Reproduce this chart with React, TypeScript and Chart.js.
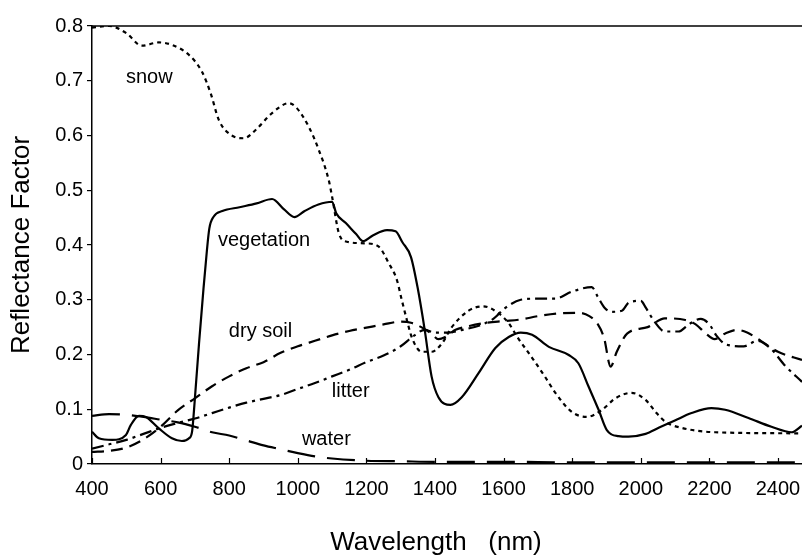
import React, { useEffect, useRef } from "react";
import { Chart, registerables } from "chart.js";

Chart.register(...registerables);

const FONT = "'Liberation Sans', Arial, Helvetica, sans-serif";

// Axis ticks
const xTicks = [400, 600, 800, 1000, 1200, 1400, 1600, 1800, 2000, 2200, 2400];
const yTicks = [0, 0.1, 0.2, 0.3, 0.4, 0.5, 0.6, 0.7, 0.8];
const xTitle = "Wavelength   (nm)";
const yTitle = "Reflectance Factor";

// snow (dotted)
const snowWavelength = [400, 450, 500, 545, 595, 635, 683, 721, 746, 770, 808, 843, 877, 925, 974, 997, 1032, 1061, 1090, 1100, 1120, 1143, 1198, 1236, 1265, 1289, 1303, 1318, 1332, 1361, 1390, 1420, 1449, 1498, 1540, 1586, 1615, 1640, 1683, 1720, 1751, 1799, 1843, 1887, 1926, 1973, 2014, 2046, 2072, 2119, 2217, 2470];
const snowReflectance = [0.797, 0.8, 0.787, 0.764, 0.77, 0.765, 0.747, 0.716, 0.677, 0.628, 0.6, 0.595, 0.61, 0.641, 0.659, 0.65, 0.616, 0.574, 0.519, 0.488, 0.421, 0.406, 0.403, 0.397, 0.367, 0.336, 0.3, 0.263, 0.232, 0.205, 0.205, 0.22, 0.25, 0.28, 0.288, 0.275, 0.257, 0.232, 0.194, 0.16, 0.13, 0.095, 0.086, 0.099, 0.12, 0.13, 0.117, 0.093, 0.077, 0.066, 0.058, 0.056];

// vegetation (solid)
const vegWavelength = [400, 420, 459, 499, 513, 537, 557, 595, 633, 662, 683, 692, 700, 712, 725, 735, 742, 755, 780, 830, 880, 925, 960, 990, 1020, 1060, 1100, 1112, 1140, 1170, 1190, 1220, 1260, 1285, 1305, 1330, 1350, 1370, 1390, 1410, 1445, 1478, 1527, 1576, 1615, 1650, 1683, 1732, 1790, 1818, 1848, 1877, 1901, 1935, 1964, 2014, 2052, 2101, 2148, 2206, 2246, 2314, 2381, 2440, 2470];
const vegReflectance = [0.059, 0.047, 0.044, 0.053, 0.071, 0.088, 0.086, 0.065, 0.047, 0.042, 0.047, 0.06, 0.12, 0.22, 0.32, 0.39, 0.43, 0.452, 0.462, 0.469, 0.476, 0.484, 0.465, 0.451, 0.462, 0.474, 0.479, 0.458, 0.44, 0.42, 0.407, 0.418, 0.427, 0.425, 0.405, 0.378, 0.32, 0.245, 0.16, 0.122, 0.108, 0.122, 0.166, 0.212, 0.232, 0.24, 0.236, 0.214, 0.199, 0.184, 0.141, 0.099, 0.062, 0.051, 0.05, 0.055, 0.066, 0.08, 0.093, 0.102, 0.099, 0.084, 0.068, 0.058, 0.07];

// dry soil (dashed)
const soilWavelength = [400, 450, 500, 550, 600, 650, 700, 750, 800, 850, 900, 950, 1000, 1050, 1100, 1150, 1200, 1250, 1300, 1330, 1360, 1390, 1410, 1430, 1460, 1500, 1550, 1600, 1650, 1700, 1760, 1820, 1850, 1875, 1893, 1912, 1930, 1960, 2020, 2070, 2130, 2160, 2190, 2215, 2245, 2280, 2310, 2350, 2400, 2470];
const soilReflectance = [0.022, 0.024, 0.03, 0.045, 0.068, 0.098, 0.12, 0.142, 0.16, 0.175, 0.186, 0.203, 0.215, 0.225, 0.235, 0.243, 0.249, 0.255, 0.26, 0.258, 0.25, 0.238, 0.228, 0.232, 0.245, 0.252, 0.258, 0.261, 0.264, 0.27, 0.275, 0.276, 0.27, 0.255, 0.23, 0.178, 0.205, 0.238, 0.25, 0.266, 0.263, 0.255, 0.238, 0.228, 0.238, 0.245, 0.24, 0.225, 0.205, 0.19];

// litter (dash-dot)
const litterWavelength = [400, 450, 500, 550, 600, 650, 700, 750, 800, 850, 900, 950, 1000, 1050, 1100, 1150, 1200, 1250, 1300, 1340, 1370, 1400, 1440, 1480, 1530, 1570, 1605, 1650, 1700, 1750, 1800, 1857, 1875, 1895, 1915, 1945, 1965, 2000, 2015, 2040, 2070, 2110, 2140, 2175, 2200, 2220, 2250, 2300, 2340, 2380, 2420, 2470];
const litterReflectance = [0.028, 0.036, 0.044, 0.055, 0.066, 0.075, 0.083, 0.093, 0.103, 0.112, 0.119, 0.126, 0.137, 0.148, 0.16, 0.172, 0.186, 0.198, 0.215, 0.235, 0.245, 0.24, 0.24, 0.245, 0.253, 0.265, 0.285, 0.3, 0.302, 0.302, 0.315, 0.323, 0.305, 0.285, 0.278, 0.28, 0.295, 0.298, 0.285, 0.26, 0.242, 0.242, 0.255, 0.265, 0.255, 0.235, 0.218, 0.215, 0.225, 0.21, 0.18, 0.15];

// water (long dash)
const waterWavelength = [400, 450, 500, 550, 600, 650, 700, 750, 800, 850, 900, 950, 1000, 1050, 1100, 1200, 1300, 1400, 1600, 1800, 2000, 2200, 2470];
const waterReflectance = [0.088, 0.091, 0.09, 0.086, 0.081, 0.076, 0.068, 0.058, 0.052, 0.043, 0.034, 0.027, 0.02, 0.014, 0.01, 0.006, 0.005, 0.004, 0.004, 0.003, 0.003, 0.003, 0.003];

// in-plot curve labels (anchored at their left baseline, in data units)
const curveLabels = ["snow", "vegetation", "dry soil", "litter", "water"];
const labelWavelength = [499, 767, 799, 1099, 1012];
const labelReflectance = [0.696, 0.398, 0.232, 0.122, 0.035];

const toPoints = (xs: number[], ys: number[]) => xs.map((x, i) => ({ x, y: ys[i] }));

const framePlugin = {
  id: "frame",
  afterDraw(chart: any) {
    const { ctx, chartArea, scales } = chart;
    const xs = scales.x;
    ctx.save();
    ctx.strokeStyle = "#000";
    ctx.lineWidth = 1.5;
    // top frame line
    ctx.beginPath();
    ctx.moveTo(chartArea.left, chartArea.top);
    ctx.lineTo(chartArea.right, chartArea.top);
    ctx.stroke();
    // inward x ticks
    ctx.lineWidth = 1.2;
    for (const v of xTicks) {
      const px = Math.round(xs.getPixelForValue(v)) + 0.5;
      ctx.beginPath();
      ctx.moveTo(px, chartArea.bottom);
      ctx.lineTo(px, chartArea.bottom - 6);
      ctx.stroke();
    }
    // curve labels
    ctx.fillStyle = "#000";
    ctx.font = `20px ${FONT}`;
    ctx.textAlign = "left";
    ctx.textBaseline = "alphabetic";
    curveLabels.forEach((t, i) => {
      ctx.fillText(t, xs.getPixelForValue(labelWavelength[i]), scales.y.getPixelForValue(labelReflectance[i]));
    });
    // x axis title
    ctx.font = `26px ${FONT}`;
    ctx.textAlign = "center";
    ctx.textBaseline = "middle";
    ctx.fillText(xTitle, 436, 543);
    ctx.restore();
  },
};

export default function App() {
  const ref = useRef<HTMLCanvasElement>(null);

  useEffect(() => {
    if (!ref.current) return;
    const common = {
      pointRadius: 0,
      borderColor: "#000",
      backgroundColor: "#000",
      fill: false,
      cubicInterpolationMode: "monotone" as const,
    };
    const chart = new Chart(ref.current, {
      type: "line",
      data: {
        datasets: [
          { ...common, label: "snow", data: toPoints(snowWavelength, snowReflectance), borderWidth: 2.2, borderDash: [4, 4] },
          { ...common, label: "vegetation", data: toPoints(vegWavelength, vegReflectance), borderWidth: 2.2 },
          { ...common, label: "dry soil", data: toPoints(soilWavelength, soilReflectance), borderWidth: 2.2, borderDash: [12, 7] },
          { ...common, label: "litter", data: toPoints(litterWavelength, litterReflectance), borderWidth: 2.2, borderDash: [12, 5, 3, 5] },
          { ...common, label: "water", data: toPoints(waterWavelength, waterReflectance), borderWidth: 2.2, borderDash: [28, 12] },
        ],
      },
      options: {
        responsive: false,
        animation: false,
        events: [],
        layout: { padding: { top: 26, right: 0, left: 0, bottom: 0 } },
        plugins: { legend: { display: false }, tooltip: { enabled: false }, title: { display: false } },
        scales: {
          x: {
            type: "linear",
            min: 400,
            max: 2470,
            afterFit: (s: any) => { s.height = 94; s.paddingLeft = 0; s.paddingRight = 0; },
            afterBuildTicks: (s: any) => { s.ticks = xTicks.map((v) => ({ value: v })); },
            grid: { display: true, drawOnChartArea: false, drawTicks: false },
            border: { display: true, color: "#000", width: 1.5 },
            ticks: {
              padding: 13,
              color: "#000",
              font: { family: FONT, size: 20 },
              maxRotation: 0,
              autoSkip: false,
              callback: (v: any) => String(v),
            },
            title: { display: false },
          },
          y: {
            type: "linear",
            min: 0,
            max: 0.8,
            afterFit: (s: any) => { s.width = 92; },
            afterBuildTicks: (s: any) => { s.ticks = yTicks.map((v) => ({ value: v })); },
            grid: { display: true, drawOnChartArea: false, drawTicks: true, tickLength: 5, color: "#000", lineWidth: 1.2 },
            border: { display: true, color: "#000", width: 1.5 },
            ticks: {
              padding: 4,
              color: "#000",
              font: { family: FONT, size: 20 },
              autoSkip: false,
              callback: (v: any) => (v === 0 ? "0" : Number(v).toFixed(1)),
            },
            title: {
              display: true,
              text: yTitle,
              color: "#000",
              font: { family: FONT, size: 26 },
              padding: { top: 6, bottom: 0 },
            },
          },
        },
      },
      plugins: [framePlugin],
    });
    return () => chart.destroy();
  }, []);

  return (
    <div style={{ position: "fixed", left: 0, top: 0, width: 802, height: 558, background: "#fff" }}>
      <canvas ref={ref} width={802} height={558} style={{ display: "block" }} />
    </div>
  );
}
